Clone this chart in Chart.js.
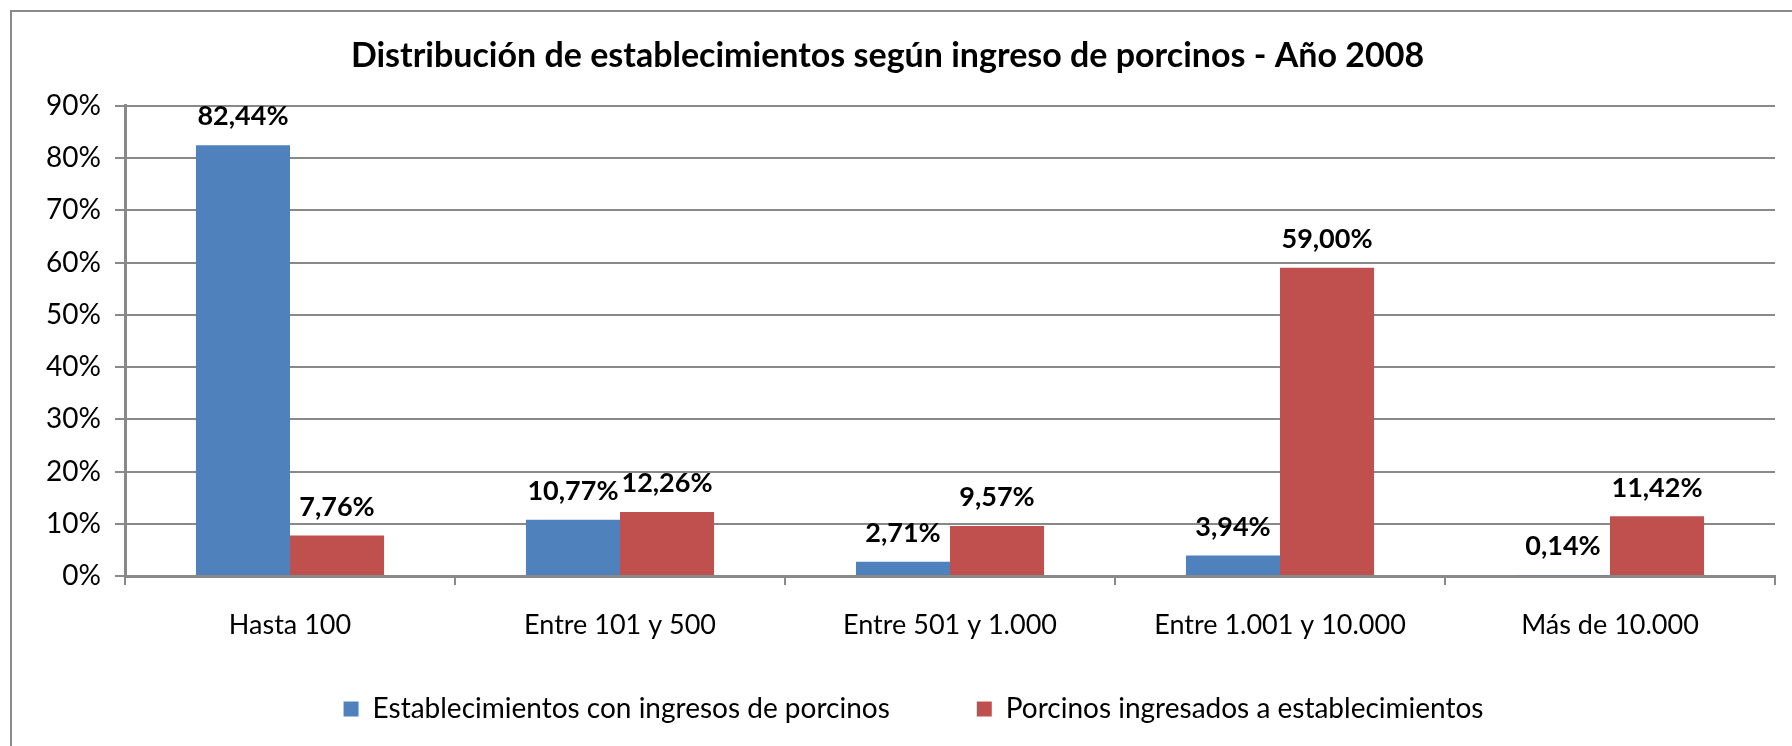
<!DOCTYPE html>
<html>
<head>
<meta charset="utf-8">
<script src="https://cdn.jsdelivr.net/npm/chart.js@4/dist/chart.umd.min.js"></script>
<style>
  html, body { margin: 0; padding: 0; background: #ffffff; }
  canvas { display: block; }
</style>
</head>
<body>
<canvas id="c" width="1792" height="746"></canvas>
<script>
const categories = ["Hasta 100", "Entre 101 y 500", "Entre 501 y 1.000", "Entre 1.001 y 10.000", "Más de 10.000"];
const establecimientos = [82.44, 10.77, 2.71, 3.94, 0.14];
const porcinos = [7.76, 12.26, 9.57, 59.00, 11.42];
const seriesNames = ["Establecimientos con ingresos de porcinos", "Porcinos ingresados a establecimientos"];
const titleText = "Distribución de establecimientos según ingreso de porcinos - Año 2008";
const yMin = 0, yMax = 90, yStep = 10;

const FONT = "Lato";
const gridColor = "#898989";

const framePlugin = {
  id: "frame",
  beforeDraw(chart) {
    const ctx = chart.ctx;
    ctx.save();
    ctx.fillStyle = "#ffffff";
    ctx.fillRect(0, 0, chart.width, chart.height);
    ctx.strokeStyle = "#8a8a8a";
    ctx.lineWidth = 2;
    ctx.strokeRect(11, 11, chart.width + 40, chart.height + 40);
    ctx.restore();
  }
};

// Legend: label padding is also the horizontal gap between items; keep the box short
// in layout, then extend it upward/downward so the row sits where the reference legend is.
const legendPlacePlugin = {
  id: "legendPlace",
  beforeUpdate(chart) {
    const lg = chart.legend;
    if (lg && !lg._wrappedFit) {
      const orig = lg.fit;
      lg.fit = function () { orig.call(this); this.height = 57; };
      lg._wrappedFit = true;
    }
  },
  afterLayout(chart) {
    const lg = chart.legend;
    if (!lg) return;
    lg.top -= 38;
    lg.bottom = lg.top + 130;
    lg.height = lg.bottom - lg.top;
    lg.left += 26; lg.right += 26;
  }
};

const labelPlugin = {
  id: "valueLabels",
  afterDatasetsDraw(chart) {
    const ctx = chart.ctx;
    ctx.save();
    ctx.font = "bold 27px " + FONT;
    ctx.fillStyle = "#000000";
    ctx.textAlign = "center";
    ctx.textBaseline = "bottom";
    chart.data.datasets.forEach((ds, i) => {
      const meta = chart.getDatasetMeta(i);
      meta.data.forEach((el, j) => {
        const v = ds.data[j];
        const txt = v.toFixed(2).replace(".", ",") + "%";
        ctx.fillText(txt, el.x, el.y - 15);
      });
    });
    ctx.restore();
  }
};

new Chart(document.getElementById("c"), {
  type: "bar",
  data: {
    labels: categories,
    datasets: [
      { label: seriesNames[0], data: establecimientos, backgroundColor: "#4F81BD", borderWidth: 0 },
      { label: seriesNames[1], data: porcinos, backgroundColor: "#C0504D", borderWidth: 0 }
    ]
  },
  options: {
    responsive: false,
    animation: false,
    devicePixelRatio: 1,
    layout: { padding: { left: 0, right: 17, top: 0, bottom: 43 } },
    datasets: { bar: { categoryPercentage: 0.57, barPercentage: 1.0 } },
    plugins: {
      title: {
        display: true,
        text: titleText,
        color: "#000000",
        font: { family: FONT, size: 34, weight: "bold" },
        padding: { top: 36, bottom: 29 }
      },
      legend: {
        position: "bottom",
        labels: {
          color: "#000000",
          font: { family: FONT, size: 28 },
          boxWidth: 15,
          boxHeight: 15,
          padding: 87
        }
      },
      tooltip: { enabled: false }
    },
    scales: {
      x: {
        offset: true,
        grid: { display: true, drawOnChartArea: false, drawTicks: true, offset: true, tickLength: 9, color: gridColor, lineWidth: 2 },
        border: { display: true, color: gridColor, width: 3 },
        ticks: { color: "#000000", font: { family: FONT, size: 27 }, padding: 24, maxRotation: 0, autoSkip: false },
        afterFit(scale) { scale.height = 70; }
      },
      y: {
        min: yMin,
        max: yMax,
        grid: { color: gridColor, lineWidth: 2, drawTicks: true, tickLength: 10 },
        border: { display: true, color: gridColor, width: 3 },
        ticks: {
          stepSize: yStep,
          color: "#000000",
          font: { family: FONT, size: 28 },
          padding: 14,
          callback: (v) => v + "%"
        },
        afterFit(scale) { scale.width = 125; }
      }
    }
  },
  plugins: [framePlugin, legendPlacePlugin, labelPlugin]
});
</script>
</body>
</html>
